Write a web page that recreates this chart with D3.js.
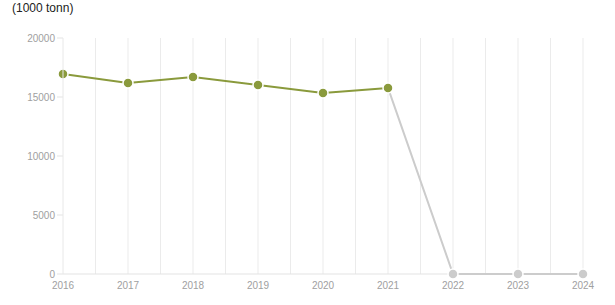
<!DOCTYPE html>
<html>
<head>
<meta charset="utf-8">
<script src="https://cdn.jsdelivr.net/npm/d3@7"></script>
<style>
  body { margin: 0; background: #fff; }
  text { font-family: "Liberation Sans", Arial, sans-serif; }
</style>
</head>
<body>
<svg id="graph" width="615" height="305"></svg>
<script>
// data
var years = ["2016", "2017", "2018", "2019", "2020", "2021", "2022", "2023", "2024"];
var values = [16950, 16190, 16700, 16020, 15340, 15770, 0, 0, 0];
var yTicks = [0, 5000, 10000, 15000, 20000];
var unitLabel = "(1000 tonn)";
var lastActual = 5; // index of last green point

var margin = {left: 63, right: 32, top: 38, bottom: 31};
var width = 615 - margin.left - margin.right;
var height = 305 - margin.top - margin.bottom;

var svg = d3.select("#graph");
var chart = svg.append("g")
    .attr("transform", "translate(" + margin.left + "," + margin.top + ")");

var x = d3.scalePoint().domain(years).range([0, width]);
var y = d3.scaleLinear().domain([0, 20000]).range([height, 0]);

// unit label
svg.append("text")
    .attr("x", 12).attr("y", 12)
    .attr("style", "font-size:12px; fill:#222")
    .text(unitLabel);

// vertical grid, every half year
var step = x.step();
var grid = d3.range(1, years.length * 2 - 1).map(function(k) { return k * step / 2; });
chart.append("g").selectAll("line")
    .data(grid).enter().append("line")
        .attr("x1", function(d) { return d; })
        .attr("x2", function(d) { return d; })
        .attr("y1", 0).attr("y2", height)
        .attr("style", "stroke:#ebebeb");

// baseline
chart.append("line")
    .attr("x1", 0).attr("x2", width)
    .attr("y1", height).attr("y2", height)
    .attr("style", "stroke:#e3e3e3");

// y axis ticks + labels
var gy = chart.append("g").selectAll("g")
    .data(yTicks).enter().append("g")
        .attr("transform", function(d) { return "translate(0," + y(d) + ")"; });
gy.append("line")
    .attr("x1", -6).attr("x2", 0)
    .attr("style", "stroke:#e3e3e3");
gy.append("text")
    .attr("x", -8).attr("dy", ".35em")
    .attr("style", "font-size:10px; fill:#a0a0a0; text-anchor:end")
    .text(function(d) { return d; });

// x labels
chart.append("g").selectAll("text")
    .data(years).enter().append("text")
        .attr("x", function(d) { return x(d); })
        .attr("y", height + 15)
        .attr("style", "font-size:10px; fill:#a0a0a0; text-anchor:middle")
        .text(function(d) { return d; });

var line = d3.line()
    .x(function(d) { return x(d.year); })
    .y(function(d) { return y(d.value); });

var pts = years.map(function(d, i) { return {year: d, value: values[i], i: i}; });

// grey (no data) part
chart.append("path")
    .datum(pts.slice(lastActual))
    .attr("d", line)
    .attr("style", "fill:none; stroke:#cccccc; stroke-width:2");
// green part
chart.append("path")
    .datum(pts.slice(0, lastActual + 1))
    .attr("d", line)
    .attr("style", "fill:none; stroke:#8a9a3c; stroke-width:2");

chart.append("g").selectAll("circle")
    .data(pts).enter().append("circle")
        .attr("cx", function(d) { return x(d.year); })
        .attr("cy", function(d) { return y(d.value); })
        .attr("r", 5)
        .attr("style", function(d) {
            return "stroke:#fff; stroke-width:1.5; fill:" + (d.i <= lastActual ? "#8a9a3c" : "#cccccc");
        });

// y axis line sits on top
chart.append("line")
    .attr("x1", 0).attr("x2", 0)
    .attr("y1", 0).attr("y2", height)
    .attr("style", "stroke:#e8e8e8");
</script>
</body>
</html>
